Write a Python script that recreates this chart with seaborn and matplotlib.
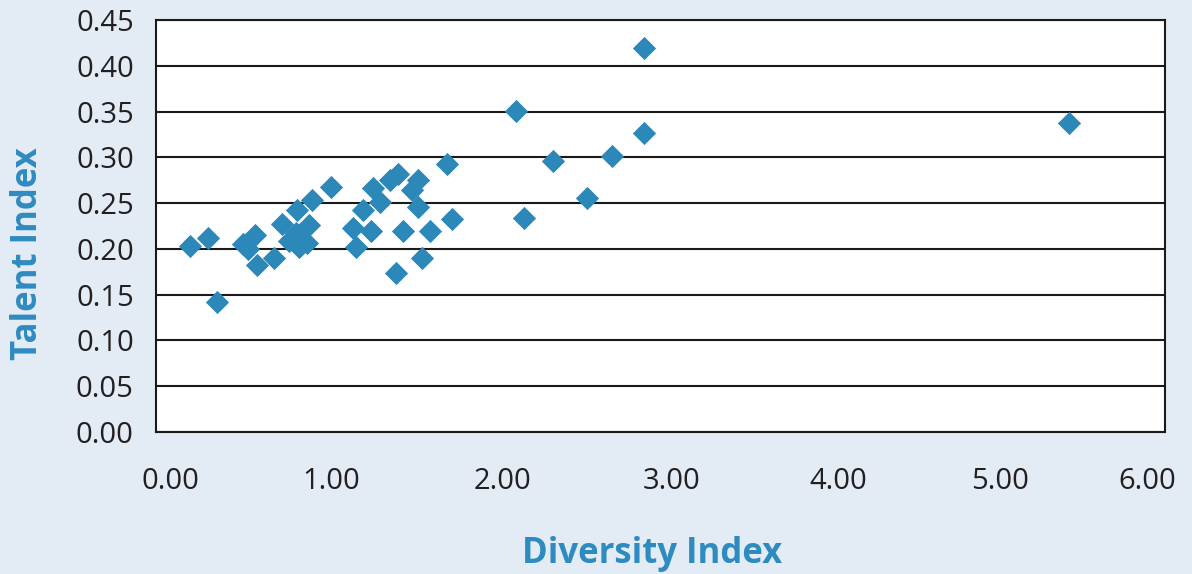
import matplotlib
matplotlib.use("Agg")
import matplotlib.pyplot as plt
import matplotlib.transforms as mtransforms
import seaborn as sns
import pandas as pd

# diversity index (x) and talent index (y)
diversity = [0.20, 0.31, 0.36, 0.52, 0.59, 0.55, 0.60, 0.70,
             0.84, 0.75, 0.91, 0.85, 0.79, 0.90, 0.83, 0.93, 1.04,
             1.17, 1.19, 1.28, 1.23, 1.29, 1.33, 1.39, 1.44,
             1.47, 1.43, 1.56, 1.52, 1.56, 1.63, 1.58, 1.73, 1.76,
             2.90, 2.14, 2.90, 2.36, 2.71, 2.56, 2.19, 5.43]
talent = [0.203, 0.212, 0.142, 0.205, 0.215, 0.200, 0.182, 0.190,
          0.242, 0.227, 0.226, 0.202, 0.209, 0.206, 0.217, 0.253, 0.268,
          0.223, 0.202, 0.220, 0.242, 0.266, 0.251, 0.275, 0.282,
          0.220, 0.174, 0.275, 0.264, 0.246, 0.220, 0.190, 0.293, 0.233,
          0.419, 0.351, 0.327, 0.296, 0.301, 0.256, 0.2335, 0.338]

df = pd.DataFrame({"Diversity Index": diversity, "Talent Index": talent})

sns.set_style("white")
plt.rcParams["font.family"] = ["Open Sans", "DejaVu Sans"]

bg = "#e3ecf4"
blue = "#2b88b8"

fig = plt.figure(figsize=(11.92, 5.74), dpi=100, facecolor=bg)
ax = fig.add_axes([156 / 1192, 1 - 432 / 574, 1009 / 1192, 412 / 574])
ax.set_facecolor("white")

sns.scatterplot(data=df, x="Diversity Index", y="Talent Index", marker="D",
                s=140, color=blue, edgecolor=blue, linewidth=0, ax=ax, zorder=3)

ax.set_xlim(0, 6)
ax.set_ylim(0, 0.45)
xt = [0, 1, 2, 3, 4, 5, 6]
yt = [i * 0.05 for i in range(10)]
ax.set_xticks(xt)
ax.set_xticklabels([f"{v:.2f}" for v in xt])
ax.set_yticks(yt)
ax.set_yticklabels([f"{v:.2f}" for v in yt])
ax.tick_params(axis="both", length=0, labelsize=21, colors="#231f20")
ax.tick_params(axis="x", pad=25)
ax.tick_params(axis="y", pad=16)
ax.yaxis.grid(True, color="#1a1a1a", linewidth=1.5)
ax.set_axisbelow(True)
for sp in ax.spines.values():
    sp.set_visible(True)
    sp.set_color("#1a1a1a")
    sp.set_linewidth(1.5)

# excel squeezes the x labels inward a bit so the last one fits
shifts = [14, 7, 10, 11, 10, 3, -18]
for lab, dx in zip(ax.get_xticklabels(), shifts):
    lab.set_transform(lab.get_transform() +
                      mtransforms.ScaledTranslation(dx / 100, 0, fig.dpi_scale_trans))

ax.set_xlabel("")
ax.set_ylabel("")
fig.text(652 / 1192, 1 - 554 / 574, "Diversity Index", ha="center", va="center",
         fontsize=25, fontweight="bold", color="#2e8bc0")
fig.text(28 / 1192, 1 - 254 / 574, "Talent Index", ha="center", va="center",
         rotation=90, fontsize=25, fontweight="bold", color="#2e8bc0")

fig.savefig("out.png", dpi=100, facecolor=bg)
